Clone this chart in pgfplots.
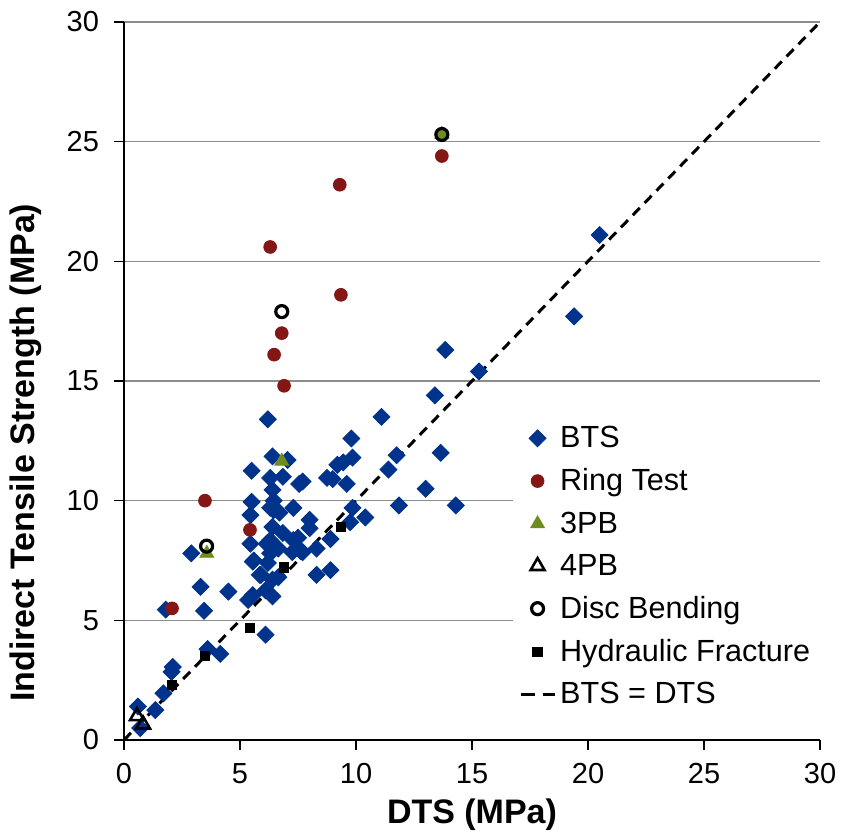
\documentclass[border=0pt]{standalone}
\usepackage{pgfplots}
\pgfplotsset{compat=1.18}
\usepackage{fontspec}
\setmainfont{Liberation Sans}

\definecolor{btsblue}{HTML}{00338C}
\definecolor{ringred}{HTML}{841616}
\definecolor{pbgreen}{HTML}{6F8D1E}
\definecolor{gridgray}{HTML}{8C8C8C}

\begin{document}
\begin{tikzpicture}
\begin{axis}[
    scale only axis,
    width=348pt, height=359pt,
    xmin=0, xmax=30, ymin=0, ymax=30,
    xtick={0,5,...,30}, ytick={0,5,...,30},
    axis lines*=left,
    axis line style={line width=0.8pt, black},
    tick align=outside,
    major tick length=5pt,
    tick style={line width=0.8pt, black},
    ymajorgrids=true,
    major grid style={line width=0.8pt, gridgray},
    /pgf/number format/assume math mode=true,
    ticklabel style={font=\fontsize{14.5}{16}\selectfont},
    xticklabel style={yshift=-3pt},
    yticklabel style={xshift=-4pt},
    xlabel={\bfseries DTS (MPa)},
    ylabel={\bfseries Indirect Tensile Strength (MPa)},
    label style={font=\fontsize{17}{19}\selectfont},
    xlabel style={at={(axis description cs:0.5,0)}, anchor=center, yshift=-37.5pt},
    ylabel style={at={(axis description cs:-0.141,0.4)}, anchor=center},
    legend style={at={(axis cs:16.75,13.55)}, anchor=north west, draw=none, fill=white,
        font=\fontsize{15.3}{17}\selectfont, row sep=5pt, inner sep=3pt},
    legend cell align=left,
    clip=false,
]
\coordinate (bl) at (rel axis cs:0,0);
\coordinate (tr) at (rel axis cs:1,1);

% BTS = DTS line (drawn below the markers)
\addplot[black, line width=1.5pt, dash pattern=on 5pt off 3.5pt, forget plot]
    coordinates {(0,0) (30,30)};

% BTS
\addplot[only marks, mark=square*, mark size=3pt, mark options={rotate=45, fill=btsblue, draw=btsblue}]
table {
x y
0.6 1.4
0.7 0.5
1.35 1.25
1.7 1.95
2.05 2.85
2.1 3.05
1.8 5.45
3.45 5.4
3.6 3.8
4.15 3.6
6.1 4.4
2.9 7.8
3.3 6.4
4.5 6.2
5.35 5.85
5.55 6.05
5.55 7.45
5.85 6.9
6.1 6.25
6.4 6.0
5.5 11.25
6.2 13.4
6.4 11.85
7.05 11.7
6.3 10.95
6.85 11.0
7.55 10.7
6.4 10.45
5.5 9.95
6.45 10.0
6.45 9.6
5.45 9.4
6.3 9.7
6.7 9.5
7.3 9.7
8.0 9.2
8.0 8.85
6.4 8.9
6.85 8.65
7.3 8.35
5.45 8.2
6.15 8.2
6.3 8.35
6.65 8.0
7.25 7.85
7.5 8.45
5.6 7.5
6.2 7.4
6.3 7.8
7.6 7.9
7.7 7.85
8.3 8.0
8.9 8.4
6.65 6.8
6.4 6.7
5.9 6.9
8.9 7.1
8.3 6.9
7.7 10.8
8.75 10.95
9.0 10.9
9.6 10.7
9.2 11.5
9.45 11.6
9.85 11.8
9.8 12.6
11.1 13.5
11.75 11.9
11.4 11.3
13.65 12.0
13.0 10.5
9.85 9.7
10.4 9.3
11.85 9.8
14.3 9.8
9.75 9.1
13.4 14.4
13.85 16.3
15.3 15.4
19.4 17.7
20.5 21.1
};
\addlegendentry{BTS}

% Ring Test
\addplot[only marks, mark=*, mark size=3.2pt, mark options={fill=ringred, draw=ringred}]
table {
x y
2.07 5.5
3.49 10.0
5.43 8.78
6.9 14.8
6.47 16.1
6.8 17.0
9.35 18.6
6.3 20.6
9.3 23.2
13.7 24.4
};
\addlegendentry{Ring Test}

% 3PB
\addplot[only marks, mark=triangle*, mark size=4pt, mark options={fill=pbgreen, draw=pbgreen}]
table {
x y
3.57 7.8
6.8 11.65
13.7 25.3
};
\addlegendentry{3PB}

% 4PB
\addplot[only marks, mark=triangle, mark size=4pt, mark options={draw=black, line width=1.3pt}]
table {
x y
0.56 1.0
0.82 0.65
};
\addlegendentry{4PB}

% Disc Bending
\addplot[only marks, mark=o, mark size=3pt, mark options={draw=black, line width=1.6pt}]
table {
x y
3.56 8.1
6.8 17.9
13.7 25.3
};
\addlegendentry{Disc Bending}

% Hydraulic Fracture
\addplot[only marks, mark=square*, mark size=2.4pt, mark options={fill=black, draw=black}]
table {
x y
2.07 2.3
3.49 3.51
5.43 4.68
6.9 7.2
9.35 8.9
};
\addlegendentry{Hydraulic Fracture}

\addlegendimage{black, line width=1.5pt, dash pattern=on 7pt off 4pt}
\addlegendentry{BTS = DTS}
\end{axis}
\pgfresetboundingbox
\path ([shift={(-62pt,-49.5pt)}]bl) rectangle ([shift={(11pt,11pt)}]tr);
\end{tikzpicture}
\end{document}
